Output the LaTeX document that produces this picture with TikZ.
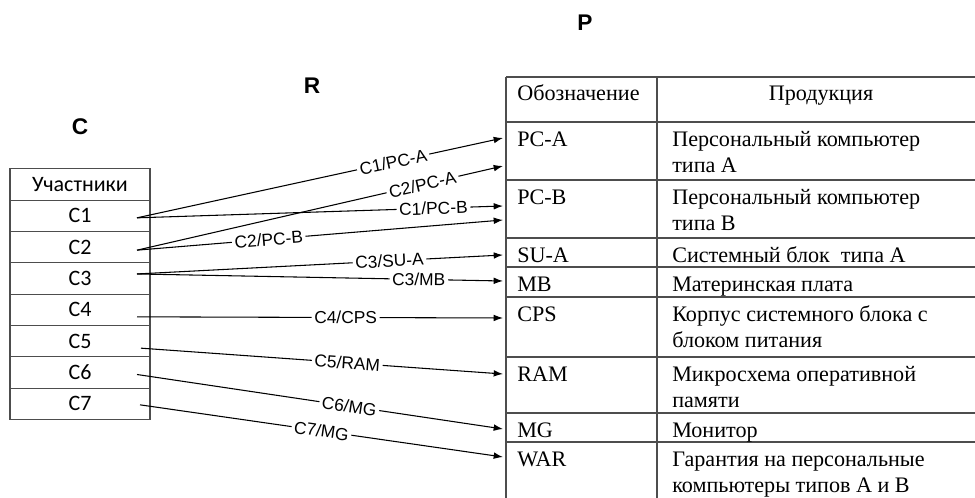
\documentclass[tikz,border=0pt]{standalone}
\usepackage{fontspec}
\setmainfont{Liberation Serif}
\newfontfamily\lblfont{Liberation Sans}
\newfontfamily\calfont{Carlito}
\usepackage{tikz}
\usetikzlibrary{positioning,arrows.meta}
\definecolor{gridcol}{HTML}{4D4D4D}

\begin{document}
\begin{tikzpicture}[x=0.75pt,y=-0.75pt,
   cell/.style={draw=gridcol,line width=0.9pt,minimum width=105pt,
              minimum height=23.5pt,inner sep=0pt,outer sep=0pt,
              font=\calfont\fontsize{16.5}{18}\selectfont},
   ttl/.style={font=\lblfont\bfseries\fontsize{17}{20}\selectfont},
   lbl/.style={sloped,fill=white,inner xsep=2pt,inner ysep=0.5pt,
              font=\lblfont\fontsize{13}{15}\selectfont},
   arr/.style={-{Latex[length=7pt,width=5pt]},line width=0.8pt},
   txt/.style={anchor=north west,inner sep=0pt,align=left,
              font=\fontsize{16.6}{19.5}\selectfont},
   rule/.style={draw=gridcol,line width=1.1pt},
]
\useasboundingbox (0,0) rectangle (975,498);

% ----- titles
\node[ttl] (tc) at (80,127) {C};
\node[ttl] (tr) at (312,86) {R};
\node[ttl] (tp) at (585,23) {P};

% ----- left: participants
\node[cell] (hdr) at (80,184.5) {Участники};
\node[cell,below=0pt of hdr] (c1) {C1};
\node[cell,below=0pt of c1] (c2) {C2};
\node[cell,below=0pt of c2] (c3) {C3};
\node[cell,below=0pt of c3] (c4) {C4};
\node[cell,below=0pt of c4] (c5) {C5};
\node[cell,below=0pt of c5] (c6) {C6};
\node[cell,below=0pt of c6] (c7) {C7};

% ----- right: products (cut at the page edge)
\draw[rule] (506,77) -- (975,77);
\draw[rule] (506,122) -- (975,122);
\draw[rule] (506,180) -- (975,180);
\draw[rule] (506,238) -- (975,238);
\draw[rule] (506,267) -- (975,267);
\draw[rule] (506,297) -- (975,297);
\draw[rule] (506,357) -- (975,357);
\draw[rule] (506,413) -- (975,413);
\draw[rule] (506,442) -- (975,442);
\draw[rule] (506,77) -- (506,498);
\draw[rule] (657,77) -- (657,498);

\node[txt] (hcode) at (517,81.8) {\strut Обозначение};
\node[txt,anchor=north] (hprod) at (821,81.8) {\strut Продукция};
\node[txt] (pca) at (517,127.8) {\strut PC-A};
\node[txt] (dpca) at (672,127.8) {\strut Персональный компьютер\\типа A};
\node[txt] (pcb) at (517,185.8) {\strut PC-B};
\node[txt] (dpcb) at (672,185.8) {\strut Персональный компьютер\\типа B};
\node[txt] (sua) at (517,243.8) {\strut SU-A};
\node[txt] (dsua) at (672,243.8) {\strut Системный блок\ \ типа A};
\node[txt] (mb) at (517,272.8) {\strut MB};
\node[txt] (dmb) at (672,272.8) {\strut Материнская плата};
\node[txt] (cps) at (517,302.8) {\strut CPS};
\node[txt] (dcps) at (672,302.8) {\strut Корпус системного блока с\\блоком питания};
\node[txt] (ram) at (517,362.8) {\strut RAM};
\node[txt] (dram) at (672,362.8) {\strut Микросхема оперативной\\памяти};
\node[txt] (mg) at (517,418.8) {\strut MG};
\node[txt] (dmg) at (672,418.8) {\strut Монитор};
\node[txt] (war) at (517,447.8) {\strut WAR};
\node[txt] (dwar) at (672,447.8) {\strut Гарантия на персональные\\компьютеры типов A и B};

% arrow ends on the table edge
\coordinate (epca1) at (503,138);
\coordinate (epca2) at (503,166);
\coordinate (epcb1) at (503,206);
\coordinate (epcb2) at (503,220);
\coordinate (esua) at (503,255);
\coordinate (emb) at (503,281);
\coordinate (ecps) at (503,318);
\coordinate (eram) at (503,374);
\coordinate (emg) at (503,429);
\coordinate (ewar) at (503,457);

% ----- relation R
\draw[arr] ([xshift=-9.75pt,yshift=-1.5pt]c1.east) -- node[lbl,pos=.70] {C1/PC-A} (epca1);
\draw[arr] ([xshift=-9.75pt,yshift=-2.25pt]c2.east) -- node[lbl,pos=.78] {C2/PC-A} (epca2);
\draw[arr] ([xshift=-9.75pt,yshift=-1.5pt]c1.east) -- node[lbl,pos=.81] {C1/PC-B} (epcb1);
\draw[arr] ([xshift=-9.75pt,yshift=-2.25pt]c2.east) -- node[lbl,pos=.36] {C2/PC-B} (epcb2);
\draw[arr] ([xshift=-9.75pt,yshift=3.4pt]c3.east) -- node[lbl,pos=.69] {C3/SU-A} (esua);
\draw[arr] ([xshift=-9.75pt,yshift=3.4pt]c3.east) -- node[lbl,pos=.77] {C3/MB} (emb);
\draw[arr] ([xshift=-9.75pt,yshift=-5.25pt]c4.east) -- node[lbl,pos=.57] {C4/CPS} (ecps);
\draw[arr] ([xshift=-6.75pt,yshift=-5.25pt]c5.east) -- node[lbl,pos=.57] {C5/RAM} (eram);
\draw[arr] ([xshift=-9.75pt,yshift=-1.5pt]c6.east) -- node[lbl,pos=.58] {C6/MG} (emg);
\draw[arr] ([xshift=-7.5pt,yshift=-0.75pt]c7.east) -- node[lbl,pos=.50] {C7/MG} (ewar);
\end{tikzpicture}
\end{document}
